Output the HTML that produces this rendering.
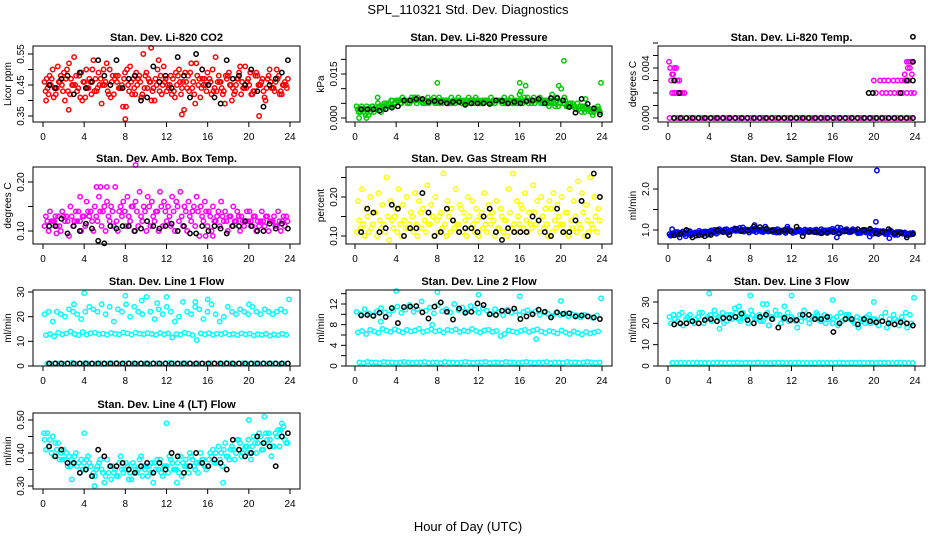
<!DOCTYPE html>
<html><head><meta charset="utf-8">
<style>
html,body{margin:0;padding:0;background:#fff;}
svg{display:block;font-family:"Liberation Sans",Arial,sans-serif;}
</style></head>
<body>
<svg id="chart" width="936" height="540" viewBox="0 0 936 540">
<text x="468" y="14" text-anchor="middle" font-size="13">SPL_110321  Std. Dev. Diagnostics</text>
<text x="468" y="531" text-anchor="middle" font-size="13">Hour of Day (UTC)</text>
<g id="panels"></g>
</svg>
<script>
// ---- shared axis data ----
const hourTicks = [0,4,8,12,16,20,24];

// ---- Panel 1: CO2 ----
const co2Red1 = [0.46,0.42,0.50,0.44,0.48,0.40,0.52,0.45,0.43,0.49,0.41,0.47,0.53,0.44,0.39,0.46,0.50,0.42,0.48,0.45,0.38,0.51,0.44,0.47,0.42,0.49,0.46,0.40,0.53,0.45,0.43,0.48,0.41,0.50,0.46,0.44,0.52,0.39,0.47,0.45,0.49,0.42,0.54,0.46,0.43,0.48,0.40,0.45,0.51,0.44,0.47,0.42,0.49,0.45,0.41,0.48,0.44,0.50,0.43,0.46];
const co2Red2 = [0.43,0.48,0.41,0.51,0.45,0.47,0.42,0.54,0.44,0.40,0.50,0.46,0.43,0.49,0.45,0.52,0.41,0.47,0.44,0.38,0.50,0.46,0.42,0.48,0.55,0.44,0.40,0.47,0.43,0.51,0.45,0.42,0.49,0.46,0.37,0.48,0.44,0.52,0.41,0.47,0.45,0.50,0.43,0.46,0.39,0.49,0.44,0.47,0.42,0.51,0.45,0.43,0.48,0.46,0.40,0.50,0.44,0.47,0.42,0.45];
const co2Red3 = [0.47,0.45,0.44,0.46,0.43,0.50,0.47,0.45,0.48,0.46,0.44,0.42,0.47,0.45,0.50,0.43,0.46,0.48,0.44,0.47,0.45,0.42,0.49,0.46,0.44,0.47,0.43,0.45,0.48,0.46,0.44,0.47,0.45,0.42,0.49,0.43,0.46,0.48,0.44,0.45,0.47,0.43,0.46,0.44,0.48,0.45,0.42,0.47,0.46,0.44,0.49,0.43,0.45,0.47,0.44,0.46,0.43,0.48,0.45,0.44];
const co2Red4 = [0.44,0.47,0.42,0.46,0.49,0.43,0.45,0.48,0.41,0.46,0.44,0.50,0.43,0.47,0.45,0.42,0.48,0.46,0.44,0.49,0.43,0.47,0.45,0.41,0.48,0.46,0.44,0.50,0.42,0.47,0.45,0.43,0.48,0.44,0.46,0.49,0.42,0.45,0.47,0.43,0.46,0.44,0.48,0.42,0.47,0.45,0.43,0.49,0.44,0.46,0.42,0.48,0.45,0.43,0.47,0.44,0.46,0.42,0.45,0.47];
const co2Black = [0.45,0.44,0.47,0.48,0.42,0.49,0.44,0.46,0.53,0.48,0.45,0.53,0.44,0.47,0.48,0.40,0.41,0.51,0.46,0.48,0.44,0.54,0.48,0.41,0.55,0.50,0.45,0.41,0.39,0.53,0.47,0.48,0.45,0.50,0.43,0.38,0.45,0.47,0.49,0.53];
const co2OutHrs = [8,10.5,13.5,21,2.5,0.3];
const co2OutVals = [0.34,0.57,0.355,0.35,0.37,0.40];

// ---- Panel 2: Pressure ----
const presG1 = [0.004,0.002,0.003,0.001,0.004,0.003,0.002,0.004,0.005,0.004,0.006,0.005,0.006,0.005,0.006,0.007,0.006,0.005,0.006,0.007,0.006,0.005,0.006,0.005,0.006,0.007,0.005,0.006,0.005,0.006,0.006,0.005,0.006,0.007,0.005,0.006,0.006,0.005,0.007,0.006,0.008,0.006,0.007,0.005,0.006,0.007,0.006,0.005,0.008,0.006,0.005,0.007,0.004,0.005,0.003,0.004,0.002,0.003,0.001,0.003];
const presG2 = [0.003,0.004,0.001,0.003,0.002,0.005,0.004,0.005,0.004,0.005,0.006,0.007,0.006,0.006,0.007,0.006,0.005,0.006,0.006,0.005,0.007,0.006,0.006,0.007,0.005,0.006,0.006,0.005,0.006,0.007,0.005,0.006,0.006,0.005,0.006,0.006,0.007,0.006,0.005,0.006,0.006,0.007,0.005,0.006,0.006,0.005,0.006,0.004,0.005,0.007,0.010,0.006,0.005,0.004,0.005,0.002,0.004,0.003,0.002,0.004];
const presG3 = [0.002,0.003,0.004,0.002,0.003,0.004,0.003,0.004,0.006,0.005,0.006,0.006,0.005,0.007,0.006,0.006,0.005,0.007,0.006,0.006,0.005,0.006,0.006,0.005,0.006,0.006,0.005,0.007,0.006,0.006,0.005,0.006,0.005,0.006,0.006,0.006,0.005,0.006,0.006,0.005,0.006,0.011,0.006,0.007,0.006,0.006,0.005,0.006,0.005,0.004,0.006,0.004,0.005,0.004,0.003,0.004,0.003,0.002,0.003,0.003];
const presG4 = [0.003,0.002,0.003,0.004,0.003,0.004,0.005,0.005,0.006,0.006,0.005,0.006,0.006,0.006,0.005,0.006,0.006,0.005,0.006,0.005,0.006,0.006,0.005,0.006,0.006,0.005,0.006,0.006,0.005,0.006,0.006,0.006,0.005,0.006,0.006,0.005,0.006,0.006,0.005,0.006,0.005,0.006,0.006,0.005,0.006,0.005,0.006,0.005,0.004,0.005,0.005,0.004,0.004,0.003,0.004,0.003,0.003,0.002,0.003,0.002];
const presOutHrs = [8,16,20.3,23.9,2.2,0.4,1.1,19.8,16.1,22.4];
const presOutVals = [0.012,0.012,0.0195,0.012,0.007,0.0,0.0,0.011,0.009,0.0065];
const presBlack = [0.003,0.003,0.003,0.0025,0.003,0.0035,0.004,0.006,0.006,0.0065,0.0065,0.0055,0.0058,0.0055,0.005,0.0055,0.0055,0.0045,0.005,0.005,0.005,0.0048,0.006,0.0058,0.005,0.0055,0.005,0.0057,0.006,0.0065,0.005,0.0068,0.0068,0.006,0.0037,0.0018,0.0065,0.0048,0.0033,0.0012];

// ---- Panel 3: Li-820 Temp ----
const tempZero = [0,0,0,0,0,0,0,0,0,0,0,0,0,0,0,0,0,0,0,0,0,0,0,0,0,0,0,0,0,0,0,0,0,0,0,0,0,0,0,0,0,0,0,0,0,0,0,0,0,0,0,0,0,0,0,0,0,0,0,0];
const tempHrs = [0.1,0.2,0.4,0.6,0.8,0.3,0.5,0.7,0.9,1.1,0.4,0.6,0.8,1.0,1.2,1.4,1.6,20.0,20.6,21.0,21.4,21.9,22.3,22.7,23.0,23.4,20.2,20.8,21.2,21.6,22.0,22.4,22.8,23.2,23.6,23.9,23.0,23.3,23.6,23.2,23.5,23.8,23.4,23.7,23.3,23.6];
const tempVals = [0.0045,0.004,0.0035,0.004,0.004,0.003,0.0035,0.003,0.003,0.003,0.002,0.002,0.002,0.002,0.002,0.002,0.002,0.003,0.003,0.003,0.003,0.003,0.003,0.003,0.003,0.003,0.002,0.002,0.002,0.002,0.002,0.002,0.002,0.002,0.002,0.002,0.0035,0.004,0.0045,0.0045,0.004,0.0045,0.0045,0.0035,0.003,0.0045];
const tempBlack = [0,0,0,0,0,0,0,0,0,0,0,0,0,0,0,0,0,0,0,0,0,0,0,0,0,0,0,0,0,0,0,0,0,0,0,0,0,0,0,0];
const tempBlackHrs = [0.6,1.1,19.5,19.9,22.6,23.2,23.8,23.8,23.8];
const tempBlackVals = [0.003,0.002,0.002,0.002,0.002,0.003,0.0065,0.0045,0.003];

// ---- Panel 4: Amb Box Temp ----
const ambLow = [0.11,0.10,0.12,0.11,0.10,0.12,0.09,0.11,0.12,0.10,0.11,0.13,0.10,0.12,0.11,0.10,0.12,0.11,0.10,0.13,0.11,0.12,0.10,0.11,0.12,0.10,0.11,0.12,0.10,0.11,0.12,0.11,0.10,0.12,0.11,0.10,0.12,0.11,0.09,0.12,0.11,0.10,0.12,0.11,0.12,0.10,0.11,0.12,0.10,0.11,0.12,0.11,0.10,0.12,0.11,0.10,0.12,0.11,0.10,0.11];
const ambHigh = [0.13,0.14,0.12,0.13,0.14,0.13,0.15,0.12,0.14,0.13,0.16,0.14,0.15,0.17,0.14,0.16,0.15,0.19,0.14,0.16,0.17,0.15,0.16,0.18,0.15,0.17,0.16,0.14,0.18,0.16,0.15,0.17,0.16,0.18,0.15,0.16,0.14,0.17,0.15,0.16,0.14,0.15,0.13,0.16,0.14,0.13,0.15,0.14,0.13,0.12,0.14,0.13,0.12,0.14,0.13,0.12,0.13,0.14,0.12,0.13];
const ambMid = [0.12,0.12,0.13,0.11,0.13,0.12,0.13,0.14,0.12,0.13,0.14,0.12,0.13,0.14,0.15,0.13,0.14,0.12,0.15,0.14,0.13,0.15,0.14,0.13,0.14,0.15,0.13,0.14,0.15,0.14,0.13,0.14,0.15,0.13,0.14,0.13,0.15,0.14,0.13,0.14,0.13,0.12,0.14,0.13,0.12,0.13,0.12,0.13,0.12,0.14,0.12,0.13,0.11,0.12,0.13,0.12,0.11,0.12,0.13,0.12];
const ambOutHrs = [9,5.2,5.6,6.2,1.3,3.6,16.5,15.8];
const ambOutVals = [0.235,0.19,0.19,0.19,0.095,0.17,0.09,0.09];
const ambBlack = [0.11,0.11,0.125,0.095,0.11,0.10,0.115,0.105,0.08,0.075,0.11,0.105,0.11,0.11,0.10,0.105,0.12,0.11,0.105,0.11,0.115,0.10,0.11,0.095,0.095,0.11,0.10,0.11,0.105,0.095,0.11,0.11,0.12,0.11,0.10,0.10,0.115,0.105,0.115,0.105];

// ---- Panel 5: Gas Stream RH ----
const rhLow = [0.11,0.12,0.10,0.11,0.13,0.10,0.12,0.11,0.09,0.12,0.11,0.10,0.12,0.13,0.11,0.10,0.12,0.11,0.13,0.10,0.11,0.12,0.10,0.11,0.12,0.13,0.11,0.10,0.12,0.11,0.10,0.12,0.11,0.13,0.10,0.12,0.11,0.10,0.12,0.11,0.13,0.12,0.11,0.12,0.13,0.11,0.12,0.10,0.11,0.12,0.13,0.11,0.10,0.12,0.11,0.12,0.10,0.11,0.12,0.11];
const rhHigh = [0.19,0.22,0.17,0.20,0.16,0.21,0.18,0.25,0.19,0.15,0.22,0.18,0.20,0.16,0.21,0.19,0.17,0.23,0.18,0.20,0.15,0.26,0.19,0.17,0.22,0.18,0.16,0.20,0.19,0.17,0.15,0.21,0.18,0.16,0.19,0.17,0.14,0.22,0.26,0.19,0.18,0.21,0.16,0.23,0.19,0.20,0.17,0.19,0.21,0.18,0.20,0.16,0.22,0.19,0.24,0.21,0.18,0.25,0.20,0.17];
const rhMid = [0.14,0.13,0.15,0.12,0.16,0.14,0.13,0.15,0.14,0.17,0.13,0.14,0.12,0.15,0.13,0.16,0.14,0.13,0.15,0.14,0.16,0.13,0.15,0.14,0.13,0.17,0.14,0.15,0.13,0.14,0.16,0.13,0.15,0.14,0.12,0.15,0.14,0.16,0.13,0.15,0.17,0.14,0.13,0.16,0.14,0.15,0.13,0.17,0.14,0.15,0.13,0.16,0.14,0.15,0.13,0.16,0.14,0.13,0.15,0.14];
const rhBlack = [0.11,0.17,0.16,0.11,0.12,0.18,0.17,0.10,0.12,0.12,0.21,0.16,0.10,0.11,0.17,0.14,0.11,0.12,0.12,0.11,0.15,0.17,0.11,0.09,0.12,0.11,0.11,0.11,0.15,0.14,0.11,0.10,0.17,0.11,0.11,0.14,0.19,0.10,0.26,0.20];

// ---- Panel 6: Sample Flow ----
const sfB1 = [0.90,0.88,0.95,0.92,0.85,0.97,0.90,0.93,0.88,0.96,0.92,1.00,0.95,0.98,1.02,0.96,1.04,0.99,1.06,1.01,0.97,1.03,0.99,0.95,1.02,0.97,1.00,0.94,0.98,1.03,0.97,0.95,1.00,0.93,0.98,0.96,1.01,0.94,0.99,0.97,1.03,0.96,1.05,0.99,0.95,1.02,0.97,0.93,1.00,0.95,0.91,0.98,0.94,0.90,0.96,0.92,0.88,0.94,0.90,0.92];
const sfB2 = [0.86,0.92,0.89,0.96,0.91,0.87,0.94,0.98,0.93,0.90,0.99,0.95,1.02,0.97,0.93,1.00,0.98,1.05,0.96,1.00,1.03,0.95,1.01,0.98,0.96,1.00,0.94,0.99,0.96,1.00,0.93,0.98,0.95,1.01,0.96,0.99,0.94,1.02,0.97,1.00,0.95,1.06,0.98,1.01,0.96,0.99,0.92,0.97,0.94,1.00,0.96,0.90,0.97,0.93,0.99,0.88,0.95,0.91,0.87,0.89];
const sfB3 = [0.88,0.95,0.82,0.93,0.98,0.90,0.86,0.92,0.96,0.89,0.95,0.91,0.98,1.01,0.95,0.99,1.03,0.97,1.00,0.94,0.98,1.02,0.96,1.08,0.99,0.95,1.02,0.97,0.93,0.99,0.96,1.01,0.94,0.97,1.00,0.95,0.98,0.93,0.99,0.96,1.00,0.94,0.97,1.02,0.95,0.98,0.93,1.00,0.96,0.91,0.99,0.94,0.97,0.92,0.96,0.90,0.95,0.91,0.89,0.92];
const sfB4 = [0.92,0.89,0.93,0.90,0.94,0.91,0.93,0.95,0.92,0.96,0.94,0.97,0.96,0.99,0.97,1.00,0.98,1.01,0.99,1.00,0.98,1.00,0.97,0.99,0.98,1.00,0.96,0.98,0.97,0.99,0.96,0.98,0.97,0.99,0.96,0.98,0.97,0.99,0.96,0.98,0.97,0.99,0.96,0.98,0.97,0.99,0.95,0.97,0.96,0.98,0.95,0.97,0.94,0.96,0.93,0.95,0.92,0.94,0.91,0.93];
const sfOutHrs = [20.3,20.2,8.4,16.4,19.6,21.5,0.4,11.6];
const sfOutVals = [2.45,1.2,1.12,0.82,0.84,0.8,1.02,1.08];
const sfBlack = [0.87,0.9,1.0,0.82,0.87,0.85,0.88,1.0,0.95,0.88,1.02,0.98,0.98,1.08,1.07,1.03,0.99,0.96,1.0,0.97,1.08,0.85,0.95,0.95,0.92,0.93,0.95,0.92,0.97,0.97,1.02,1.0,1.03,0.92,0.95,1.02,0.92,0.93,0.82,0.90];

// ---- Panel 7: Line 1 Flow ----
const l1High = [21,22,18,22,21,20,23,22,21,19,22,24,23,22,25,21,24,18,23,22,25,20,24,22,21,28,22,19,23,21,24,22,18,20,26,22,21,24,23,19,22,25,21,18,20,24,22,21,23,22,21,24,22,21,23,22,21,22,23,22];
const l1Mid = [12.5,13,12,13.5,12.8,13.2,14,13,12.5,13.8,12.7,13.3,13.5,12.9,13.1,12.6,13.4,13,12.8,13.6,13.2,12.7,13.5,13.1,12.9,13.3,13,12.6,13.4,12.8,13.2,11.5,13,12.7,13.5,13.1,12.5,10.5,13.2,12.8,13.3,12.6,13.1,12.9,13.4,12.7,13,12.5,13.2,12.8,13.1,12.4,12.9,12.6,13,12.3,12.8,12.5,13.1,12.6];
const l1Base = [1,0.9,1.1,1,0.8,1,1.2,0.9,1,1.1,1,0.9,1,1.1,0.8,1,1,1.2,0.9,1,1.1,1,0.9,1,1,0.8,1.1,1,0.9,1,1.2,1,0.9,1,1.1,1,0.8,1,1,0.9,1.1,1,1,0.9,1.2,1,0.8,1,1.1,1,0.9,1,1,1.1,0.9,1,1,0.8,1,1];
const l1OutHrs = [4,8,12,16,20,23.9,3,9.6,11.1,14.8];
const l1OutVals = [29.5,28.5,28,27,25,27,25,26.5,25.5,26];
const l1Black = [1,1,1,1,1,1,1,1,1,1,1,1,1,1,1,1,1,1,1,1,1,1,1,1,1,1,1,1,1,1,1,1,1,1,1,1,1,1,1,1];

// ---- Panel 8: Line 2 Flow ----
const l2High = [10.5,10,11,10.2,9.8,10.6,11.2,10.4,10,10.8,11.5,10.3,10.9,11.8,10.5,11,12.5,10.7,11.3,10.2,11.8,10.6,11,10.4,12,10.8,11.3,10.5,11.6,10.9,10.3,11.2,10.7,10.1,11,10.5,9.8,10.9,10.3,10.6,9.9,10.5,10.8,10.2,10.6,9.9,10.4,10.1,9.7,10.3,9.9,10.2,9.6,10,9.8,9.4,9.9,9.6,9.3,9.8];
const l2Mid = [6.5,6.8,6.2,7,6.7,6.4,7.2,6.9,6.6,7.1,6.8,6.5,7,6.7,6.9,7.2,6.6,6.8,7.1,6.7,6.9,6.5,7,6.8,7.1,6.6,6.9,6.7,7.2,6.8,6.5,6.9,7,6.6,6.8,5.8,6.2,6.9,6.7,6.5,6.8,7,6.6,6.9,7.1,6.7,6.4,6.8,6.6,6.3,6.9,6.5,6.2,6.7,6.4,6.1,6.6,6.3,6.5,6.7];
const l2Base = [0.7,0.6,0.8,0.7,0.7,0.6,0.8,0.7,0.7,0.6,0.7,0.8,0.7,0.6,0.7,0.7,0.8,0.6,0.7,0.7,0.6,0.8,0.7,0.7,0.6,0.7,0.8,0.7,0.6,0.7,0.7,0.8,0.6,0.7,0.7,0.6,0.8,0.7,0.7,0.6,0.7,0.8,0.7,0.6,0.7,0.7,0.8,0.6,0.7,0.7,0.6,0.8,0.7,0.7,0.6,0.7,0.8,0.7,0.6,0.7];
const l2OutHrs = [4,8,12,16,20,23.9,2.5,7.5,17.6];
const l2OutVals = [14.5,14.3,13.8,13.5,12.6,13.1,8.6,8,5.2];
const l2Black = [9.8,9.9,9.7,10.3,9.5,11.2,8.3,11.4,11.5,11.6,10.4,9.2,11.5,12.3,10.5,9.0,11.1,10.3,10.5,12.1,11.8,10.0,9.9,10.7,10.6,11.1,9.1,9.6,10.0,10.9,10.5,9.4,10.4,10.1,10.2,9.6,9.8,9.6,9.4,9.1];

// ---- Panel 9: Line 3 Flow ----
const l3High = [23,24,21,25,22,24,20,23,25,22,24,26,23,25,21,24,27,22,25,23,26,22,24,21,25,23,26,24,22,25,23,21,24,26,22,23,25,21,24,22,20,23,25,22,24,21,23,22,20,24,22,21,23,25,22,24,21,23,25,24];
const l3Low = [20,22,24,19,23,21,22,25,20,23,21,24,22,20,24,22,25,21,23,20,24,22,21,23,19,22,24,20,23,21,22,18,21,23,20,22,24,21,20,23,22,19,21,24,22,20,18,21,23,20,22,19,21,18,20,22,19,21,18,20];
const l3Base = [1.5,1.4,1.6,1.5,1.5,1.4,1.6,1.5,1.5,1.4,1.5,1.6,1.5,1.4,1.5,1.5,1.6,1.4,1.5,1.5,1.4,1.6,1.5,1.5,1.4,1.5,1.6,1.5,1.4,1.5,1.5,1.6,1.4,1.5,1.5,1.4,1.6,1.5,1.5,1.4,1.5,1.6,1.5,1.4,1.5,1.5,1.6,1.4,1.5,1.5,1.4,1.6,1.5,1.5,1.4,1.5,1.6,1.5,1.4,1.5];
const l3OutHrs = [4,8,12,16,20,23.9,5,9.2,9.6,11.3,6.9];
const l3OutVals = [34,33,33,31,30,32,17.5,29,29,28,28];
const l3Black = [19.5,20,20,21,20,21.5,22,21,22.5,22.5,23,24.5,21.5,20,23,24,22,18,22.5,21.5,21.5,24,24,22,22,23,16,20,22,22,19.5,22,21,20.5,21,20,19.5,20.5,20,19];

// ---- Panel 10: Line 4 (LT) Flow ----
const l4C1 = [0.44,0.42,0.45,0.41,0.40,0.38,0.39,0.37,0.36,0.38,0.35,0.37,0.34,0.36,0.35,0.33,0.36,0.34,0.33,0.35,0.37,0.34,0.36,0.35,0.33,0.36,0.34,0.37,0.35,0.33,0.36,0.38,0.35,0.34,0.37,0.36,0.39,0.35,0.37,0.38,0.36,0.39,0.40,0.38,0.41,0.39,0.42,0.40,0.43,0.41,0.44,0.42,0.40,0.45,0.43,0.46,0.42,0.45,0.47,0.44];
const l4C2 = [0.41,0.44,0.39,0.43,0.38,0.40,0.36,0.39,0.37,0.35,0.38,0.36,0.33,0.37,0.34,0.38,0.32,0.35,0.37,0.34,0.36,0.32,0.35,0.38,0.36,0.33,0.37,0.35,0.38,0.36,0.34,0.37,0.35,0.39,0.36,0.34,0.38,0.37,0.40,0.36,0.38,0.41,0.37,0.40,0.43,0.38,0.41,0.44,0.39,0.42,0.40,0.45,0.43,0.41,0.46,0.44,0.42,0.47,0.45,0.43];
const l4C3 = [0.46,0.40,0.43,0.38,0.41,0.36,0.38,0.40,0.34,0.37,0.39,0.33,0.35,0.38,0.31,0.34,0.36,0.33,0.39,0.35,0.32,0.37,0.34,0.39,0.35,0.36,0.31,0.38,0.34,0.36,0.39,0.35,0.37,0.33,0.38,0.40,0.36,0.34,0.38,0.35,0.40,0.37,0.42,0.36,0.39,0.41,0.38,0.44,0.40,0.42,0.38,0.43,0.46,0.41,0.44,0.39,0.46,0.42,0.48,0.43];
const l4OutHrs = [4,5,12,21.5,20,23.2,13,17.5,2.8,0.1];
const l4OutVals = [0.46,0.30,0.49,0.51,0.50,0.49,0.31,0.31,0.32,0.46];
const l4Black = [0.42,0.39,0.41,0.37,0.37,0.34,0.35,0.33,0.41,0.39,0.36,0.36,0.37,0.35,0.34,0.36,0.37,0.34,0.37,0.35,0.40,0.39,0.34,0.36,0.40,0.37,0.36,0.38,0.37,0.35,0.44,0.41,0.39,0.40,0.45,0.43,0.42,0.36,0.45,0.46];

// ---- tick arrays ----
const co2Ticks=[0.35,0.40,0.45,0.50,0.55], co2TickLabels=["0.35","","0.45","","0.55"];
const presTicks=[0,0.005,0.010,0.015,0.020], presTickLabels=["0.000","","","0.015",""];
const tempTicks=[0,0.001,0.002,0.003,0.004,0.005,0.006], tempTickLabels=["0.000","","","","0.004","",""];
const ambTicks=[0.10,0.15,0.20], ambTickLabels=["0.10","","0.20"];
const rhTicks=[0.10,0.15,0.20,0.25], rhTickLabels=["0.10","","0.20",""];
const sfTicks=[1.0,1.5,2.0], sfTickLabels=["1.0","","2.0"];
const l1Ticks=[0,10,20,30], l1TickLabels=["0","10","20","30"];
const l2Ticks=[0,2,4,6,8,10,12,14], l2TickLabels=["0","","4","","8","","12",""];
const l3Ticks=[0,10,20,30], l3TickLabels=["0","10","20","30"];
const l4Ticks=[0.30,0.35,0.40,0.45,0.50], l4TickLabels=["0.30","","0.40","","0.50"];

const RED="#ff0000", GRN="#00cd00", MAG="#ff00ff", YEL="#ffff00", BLU="#0000ff", CYN="#00ffff", BLK="#000000";
const cols=[{l:33,r:300,x0:43,x24:290},{l:346,r:612,x0:355,x24:602},{l:658,r:925,x0:668,x24:915}];
const rows=[{t:46,b:122},{t:167,b:244},{t:290,b:366},{t:413,b:489}];

const panels=[
 {key:"co2",c:0,r:0,title:"Stan. Dev. Li-820 CO2",ylab:"Licor ppm",v0:0.35,p0:116,v1:0.55,p1:54,ticks:co2Ticks,labels:co2TickLabels,
  series:[[RED,co2Red1],[RED,co2Red2],[RED,co2Red3],[RED,co2Red4]],outs:[[RED,co2OutHrs,co2OutVals]],black:co2Black},
 {key:"pressure",c:1,r:0,title:"Stan. Dev. Li-820 Pressure",ylab:"kPa",v0:0,p0:118,v1:0.015,p1:74,ticks:presTicks,labels:presTickLabels,
  series:[[GRN,presG1],[GRN,presG2],[GRN,presG3],[GRN,presG4]],outs:[[GRN,presOutHrs,presOutVals]],black:presBlack},
 {key:"li820-temp",c:2,r:0,title:"Stan. Dev. Li-820 Temp.",ylab:"degrees C",v0:0,p0:118,v1:0.004,p1:68,ticks:tempTicks,labels:tempTickLabels,
  series:[[MAG,tempZero]],outs:[[MAG,tempHrs,tempVals]],black:tempBlack,blackOuts:[tempBlackHrs,tempBlackVals]},
 {key:"amb-box-temp",c:0,r:1,title:"Stan. Dev. Amb. Box Temp.",ylab:"degrees C",v0:0.10,p0:231,v1:0.20,p1:182,ticks:ambTicks,labels:ambTickLabels,
  series:[[MAG,ambLow],[MAG,ambHigh],[MAG,ambMid]],outs:[[MAG,ambOutHrs,ambOutVals]],black:ambBlack},
 {key:"gas-stream-rh",c:1,r:1,title:"Stan. Dev. Gas Stream RH",ylab:"percent",v0:0.10,p0:236,v1:0.20,p1:197,ticks:rhTicks,labels:rhTickLabels,
  series:[[YEL,rhLow],[YEL,rhHigh],[YEL,rhMid]],outs:[],black:rhBlack},
 {key:"sample-flow",c:2,r:1,title:"Stan. Dev. Sample Flow",ylab:"ml/min",v0:1.0,p0:230,v1:2.0,p1:189,ticks:sfTicks,labels:sfTickLabels,
  series:[[BLU,sfB1],[BLU,sfB2],[BLU,sfB3],[BLU,sfB4]],outs:[[BLU,sfOutHrs,sfOutVals]],black:sfBlack},
 {key:"line1-flow",c:0,r:2,title:"Stan. Dev. Line 1 Flow",ylab:"ml/min",v0:0,p0:366,v1:30,p1:292,ticks:l1Ticks,labels:l1TickLabels,
  series:[[CYN,l1High],[CYN,l1Mid],[CYN,l1Base]],outs:[[CYN,l1OutHrs,l1OutVals]],black:l1Black},
 {key:"line2-flow",c:1,r:2,title:"Stan. Dev. Line 2 Flow",ylab:"ml/min",v0:0,p0:366,v1:12,p1:304,ticks:l2Ticks,labels:l2TickLabels,
  series:[[CYN,l2High],[CYN,l2Mid],[CYN,l2Base]],outs:[[CYN,l2OutHrs,l2OutVals]],black:l2Black},
 {key:"line3-flow",c:2,r:2,title:"Stan. Dev. Line 3 Flow",ylab:"ml/min",v0:0,p0:366,v1:30,p1:302,ticks:l3Ticks,labels:l3TickLabels,
  series:[[CYN,l3High],[CYN,l3Low],[CYN,l3Base]],outs:[[CYN,l3OutHrs,l3OutVals]],black:l3Black},
 {key:"line4-flow",c:0,r:3,title:"Stan. Dev. Line 4 (LT) Flow",ylab:"ml/min",v0:0.30,p0:486,v1:0.50,p1:420,ticks:l4Ticks,labels:l4TickLabels,
  series:[[CYN,l4C1],[CYN,l4C2],[CYN,l4C3]],outs:[[CYN,l4OutHrs,l4OutVals]],black:l4Black}
];

const NS="http://www.w3.org/2000/svg";
const root=document.getElementById("panels");
function mk(tag,attrs,parent){const e=document.createElementNS(NS,tag);for(const k in attrs)e.setAttribute(k,attrs[k]);parent.appendChild(e);return e;}

panels.forEach(p=>{
  const C=cols[p.c], R=rows[p.r];
  const xs=h=>C.x0+(C.x24-C.x0)*h/24;
  const ys=v=>p.p0+(p.p1-p.p0)*(v-p.v0)/(p.v1-p.v0);
  const g=mk("g",{},root);
  
  
  const t=mk("text",{x:(C.l+C.r)/2,y:R.t-5,"text-anchor":"middle","font-size":"11","font-weight":"bold"},g);
  t.textContent=p.title;
  
  
  const yl=mk("text",{transform:`translate(${C.l-22},${(R.t+R.b)/2}) rotate(-90)`,"text-anchor":"middle","font-size":"10"},g);
  yl.textContent=p.ylab;
  
  
  const pts=mk("g",{fill:"none","stroke-width":"1.5"},g);
  
  
  const dot=(h,v,col)=>{
    const c=mk("circle",{cx:xs(h).toFixed(1),cy:ys(v).toFixed(1),r:"2.2",stroke:col},pts);
    
    
  };
  const ns=p.series.length;
  p.series.forEach(([col,arr],si)=>{
    const s0=0.15+si*0.4/ns, s1=23.5+si*0.4/ns;
    arr.forEach((v,i)=>dot(s0+(s1-s0)*i/(arr.length-1),v,col));
  });
  p.outs.forEach(([col,hrs,vals])=>hrs.forEach((h,i)=>dot(h,vals[i],col)));
  p.black.forEach((v,i)=>dot(0.6+(23.8-0.6)*i/(p.black.length-1),v,BLK));
  if(p.blackOuts){const [hrs,vals]=p.blackOuts;hrs.forEach((h,i)=>dot(h,vals[i],BLK));}
  const box=mk("rect",{x:C.l,y:R.t,width:C.r-C.l,height:R.b-R.t,fill:"none",stroke:"#000","stroke-width":"1"},g);
  
  
  const ax=mk("g",{stroke:"#000","stroke-width":"1"},g);
  
  
  hourTicks.forEach(h=>{
    mk("line",{x1:xs(h),x2:xs(h),y1:R.b,y2:R.b+5},ax);
    const tl=mk("text",{x:xs(h),y:R.b+18,"text-anchor":"middle","font-size":"10",stroke:"none"},ax);
    tl.textContent=String(h);
    
    
  });
  p.ticks.forEach((v,i)=>{
    mk("line",{x1:C.l-5,x2:C.l,y1:ys(v),y2:ys(v)},ax);
    if(p.labels[i]){
      const tl=mk("text",{transform:`translate(${C.l-9},${ys(v)}) rotate(-90)`,"text-anchor":"middle","font-size":"10",stroke:"none"},ax);
      tl.textContent=p.labels[i];
      
      
    }
  });
});
</script>
</body></html>
